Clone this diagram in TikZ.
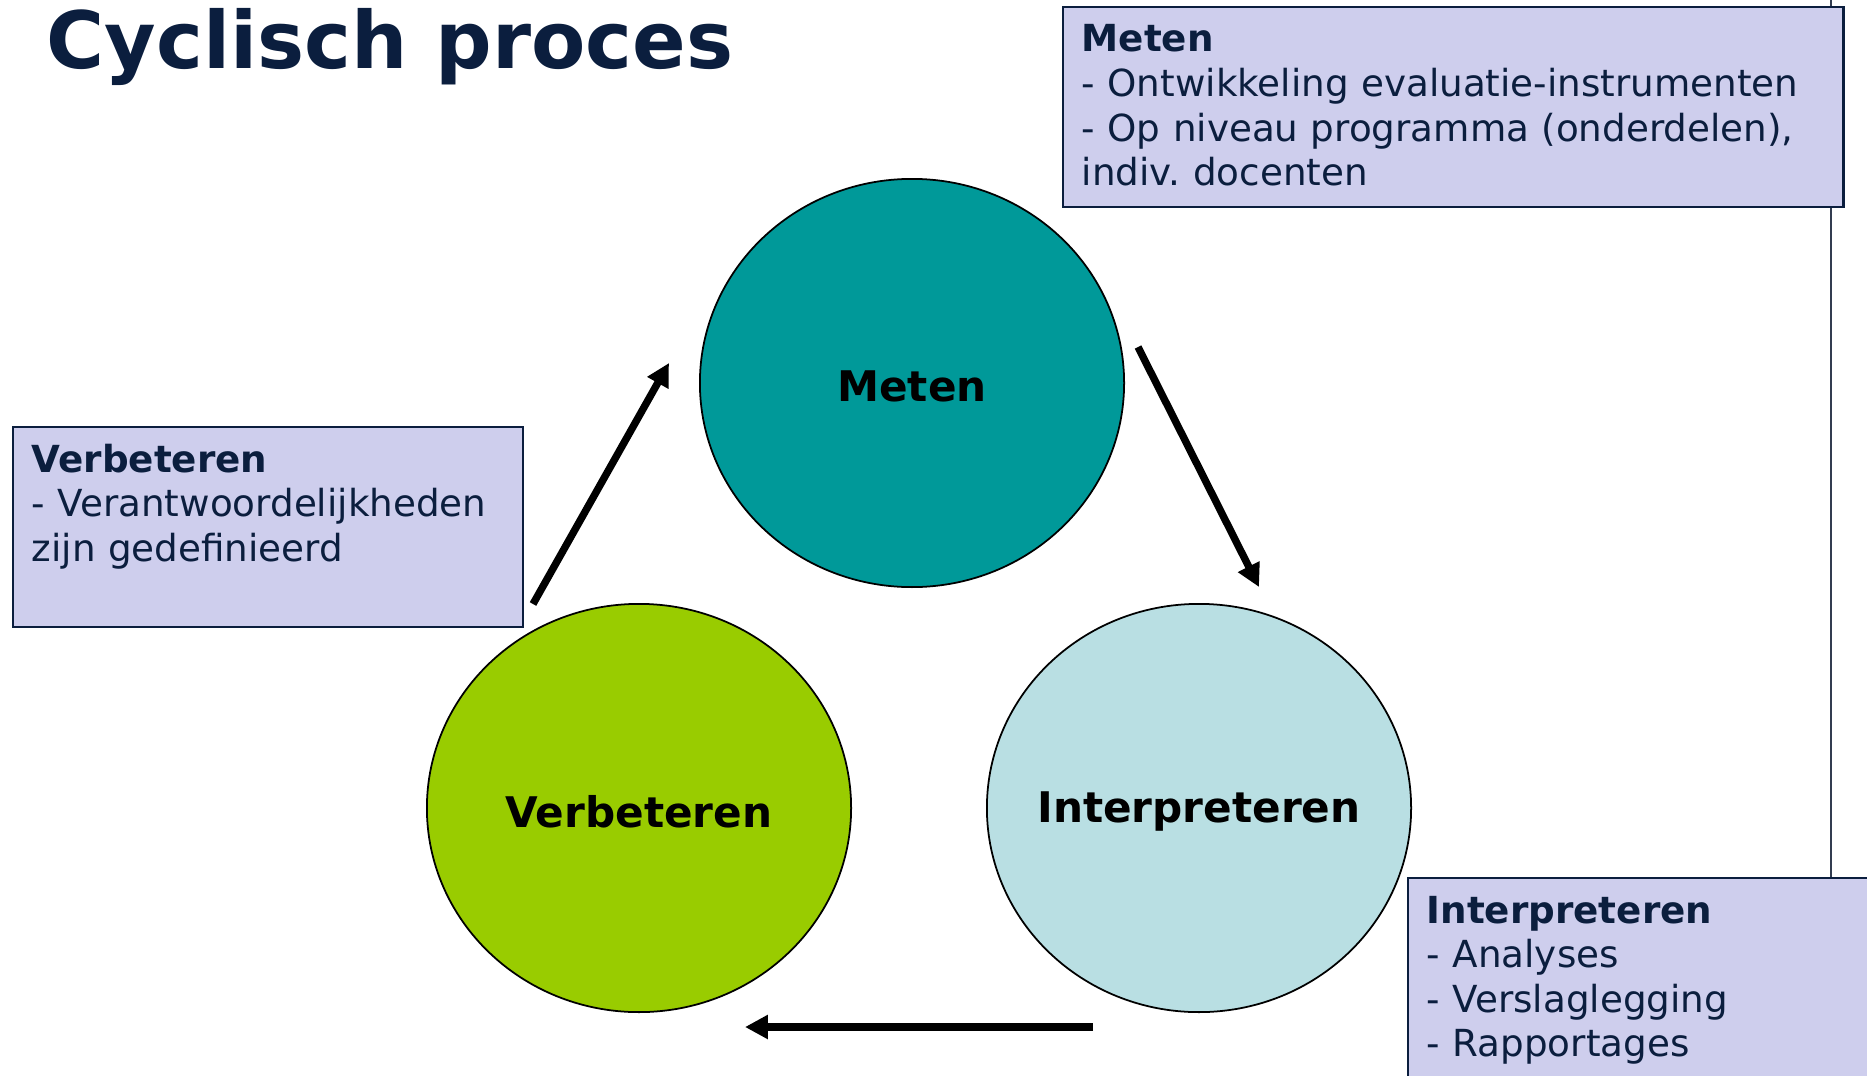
\documentclass[tikz,border=0pt]{standalone}
\usepackage{fontspec}
\setmainfont{DejaVu Sans}
\usetikzlibrary{shapes.geometric,arrows.meta}
\definecolor{donkerblauw}{RGB}{11,30,62}
\definecolor{meetteal}{RGB}{0,153,153}
\definecolor{verbetergroen}{RGB}{153,204,0}
\definecolor{interpretblauw}{RGB}{185,223,227}
\definecolor{kaderlila}{RGB}{206,206,237}

\begin{document}
\begin{tikzpicture}[x=0.01cm, y=-0.01cm,
		cirkel/.style={ellipse, draw=black, line width=0.5pt, minimum width=4.24cm, minimum height=4.08cm, inner sep=0pt},
		fase/.style={label={[font=\bfseries\fontsize{12}{14}\selectfont, yshift=-1pt]center:#1}},
		kader/.style={draw=donkerblauw, line width=0.6pt, fill=kaderlila, anchor=north west, inner sep=0pt},
		kadertekst/.style={anchor=base west, inner sep=0pt, text=donkerblauw, align=left, text width=8cm, font=\fontsize{10.6}{12.7}\selectfont},
		pijl/.style={line width=2.1pt, -{Triangle[length=6.5pt,width=6.5pt]}}]
		\useasboundingbox (0,0) rectangle (1867,1076);
		\clip (0,0) rectangle (1867,1076);
		\definecolor{randgrijs}{RGB}{50,60,80}
		% rand van de dia
		\draw[line width=0.6pt, color=randgrijs] (1831,0)--(1831,877);
		\node[anchor=base west, inner sep=0pt, text=donkerblauw, font=\bfseries\fontsize{22.5}{27}\selectfont] (titel) at (46,69) {Cyclisch proces};
		% de drie fasen
		\node[cirkel, fill=meetteal, fase=Meten] (meten) at (912,383) {};
		\node[cirkel, fill=verbetergroen, fase=Verbeteren] (verbeteren) at (639,808) {};
		\node[cirkel, fill=interpretblauw, fase=Interpreteren] (interpreteren) at (1199,808) {};
		% kaders met toelichting
		\node[kader, minimum width=7.80cm, minimum height=2.00cm] (kadermeten) at (1062,6) {};
		\node[kadertekst] (tekstmeten) at ([shift={(19,46)}]kadermeten.north west) {\textbf{Meten}\\- Ontwikkeling evaluatie-instrumenten\\- Op niveau programma (onderdelen),\\indiv.\ docenten};
		\node[kader, minimum width=5.10cm, minimum height=2.00cm] (kaderverbeteren) at (12,426) {};
		\node[kadertekst] (tekstverbeteren) at ([shift={(19,46)}]kaderverbeteren.north west) {\textbf{Verbeteren}\\- Verantwoordelijkheden\\zijn gedefinieerd};
		\node[kader, minimum width=6.00cm, minimum height=3.00cm] (kaderinterpreteren) at (1407,877) {};
		\node[kadertekst] (tekstinterpreteren) at ([shift={(19,46)}]kaderinterpreteren.north west) {\textbf{Interpreteren}\\- Analyses\\- Verslaglegging\\- Rapportages};
		% pijlen van de cyclus
		\coordinate (p1a) at ([shift={(-106,-204)}]verbeteren.center);
		\coordinate (p1b) at ([shift={(-243,-20)}]meten.center);
		\coordinate (p2a) at ([shift={(226,-36)}]meten.center);
		\coordinate (p2b) at ([shift={(60,-221)}]interpreteren.center);
		\coordinate (p3a) at ([shift={(-106,219)}]interpreteren.center);
		\coordinate (p3b) at ([shift={(106,219)}]verbeteren.center);
		\draw[pijl] (p1a)--(p1b);
		\draw[pijl] (p2a)--(p2b);
		\draw[pijl] (p3a)--(p3b);
	\end{tikzpicture}
\end{document}
